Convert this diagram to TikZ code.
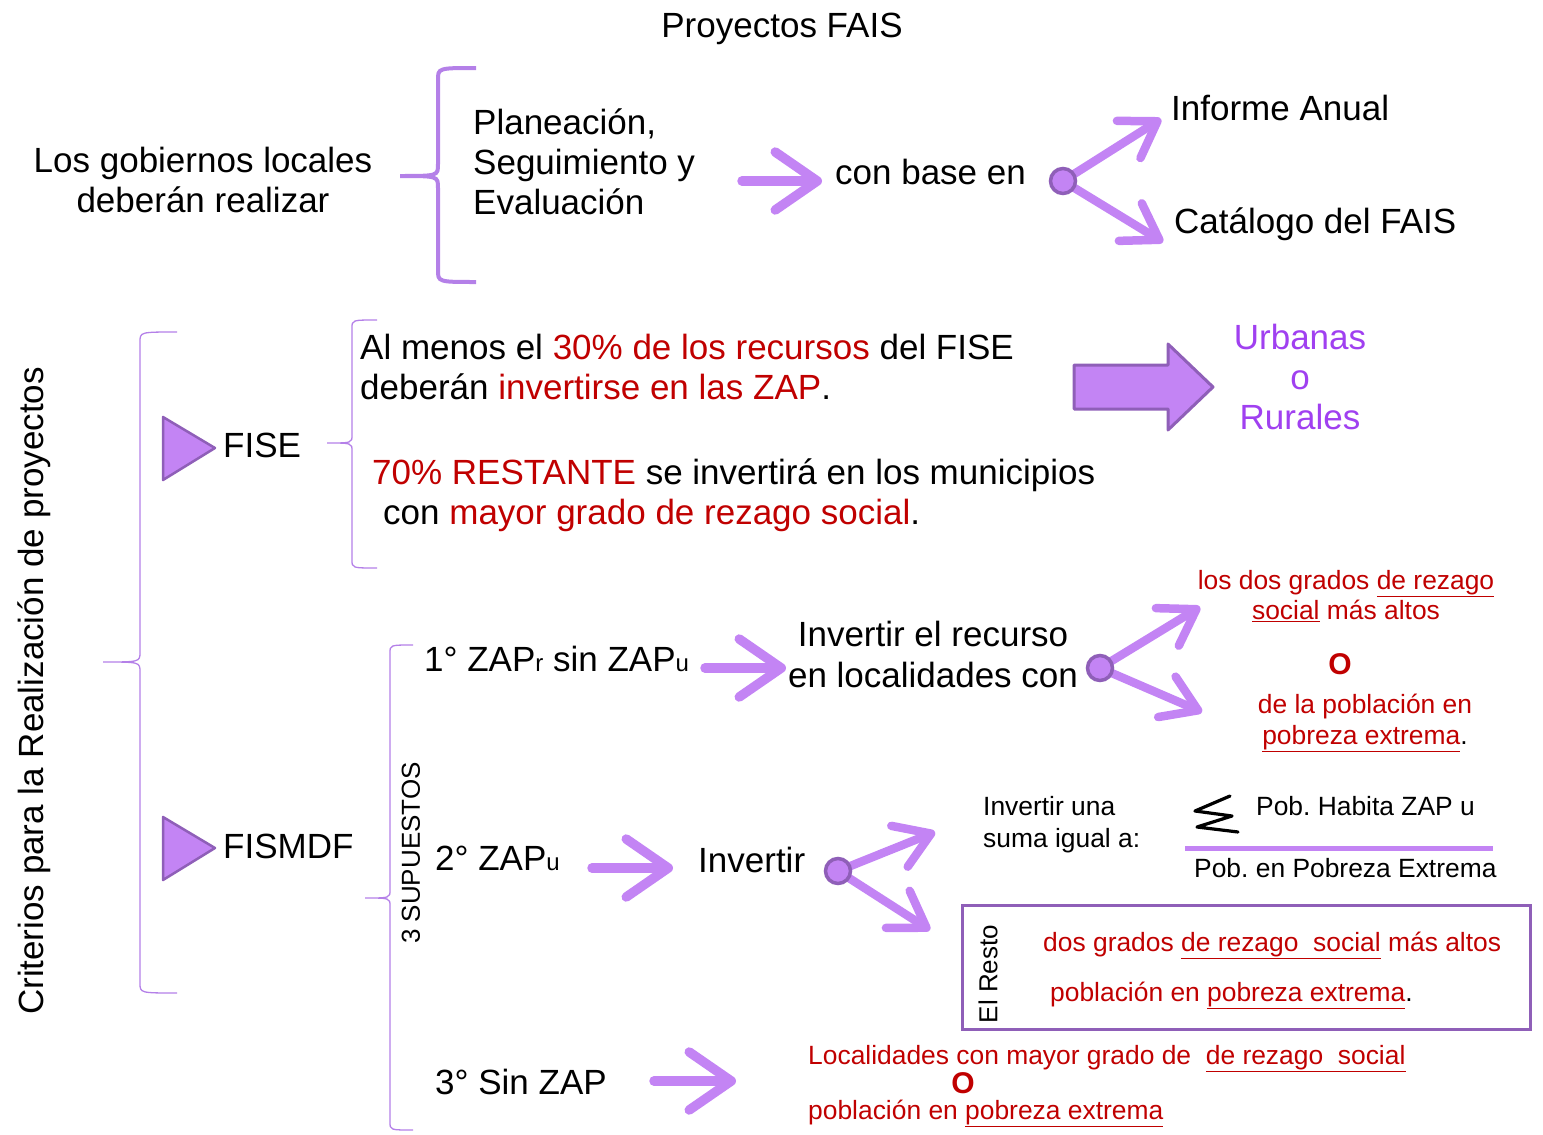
\documentclass[tikz,border=0pt]{standalone}
\usepackage{fontspec}
\setmainfont{Liberation Sans}
\usetikzlibrary{arrows.meta}
\definecolor{arrowc}{RGB}{195,132,244}
\definecolor{darkp}{RGB}{143,95,184}
\definecolor{bracec}{RGB}{180,128,232}
\definecolor{redc}{RGB}{192,0,0}
\definecolor{urbc}{RGB}{160,64,240}
\frenchspacing
\newcommand\fsA{\fontsize{35}{40}\selectfont}
\newcommand\fsB{\fontsize{26.4}{30.5}\selectfont}
\newcommand\fsC{\fontsize{26}{32}\selectfont}
\newcommand\fsO{\fontsize{30}{30}\selectfont\bfseries}
\newcommand\fsS{\fontsize{24}{24}\selectfont}
\newcommand\ul[1]{\underline{#1}}
\newcommand\bracepath[7]{% xv ytop ybot xtip ytip xend r
  (#6,#2) .. controls (#1,#2) .. (#1,#2+#7) -- (#1,#5-#7)
  .. controls (#1,#5) .. (#4,#5) .. controls (#1,#5) .. (#1,#5+#7)
  -- (#1,#3-#7) .. controls (#1,#3) .. (#6,#3)}
\begin{document}
\begin{tikzpicture}[x=1pt,y=-1pt,
  txt/.style={inner sep=0pt, font=\fsA},
  redt/.style={inner sep=0pt, font=\fsB, text=redc},
  smt/.style={inner sep=0pt, font=\fontsize{26.4}{32}\selectfont},
  parrow/.style={draw=arrowc, line width=9.5pt, line cap=round, -{Straight Barb[length=42pt,width=58pt,round]}},
  sarrow/.style={draw=arrowc, line width=8.5pt, line cap=round, -{Straight Barb[length=34pt,width=44pt,round]}},
  dotc/.style={circle, fill=arrowc, draw=darkp, line width=3.5pt, minimum size=25pt, inner sep=0pt},
  bracel/.style={draw=bracec, line width=1.3pt},
  tri/.style={fill=arrowc, draw=darkp, line width=2.5pt, line join=round}]
\useasboundingbox (0,0) rectangle (1543,1135);

% ---------- top section ----------
\node[txt, anchor=base] (title) at (782,37) {Proyectos FAIS};
\node[txt, anchor=base, align=center] (gob) at (203,212) {Los gobiernos locales\\deberán realizar};
\draw[draw=bracec, line width=4pt] \bracepath{438}{68}{282}{400}{176}{476}{12};
\node[txt, anchor=base west, align=left] (plan) at (473,214) {Planeación,\\Seguimiento y\\Evaluación};
\coordinate (a1s) at (742,181);
\coordinate (a1e) at (822,181);
\draw[parrow] (a1s) -- (a1e);
\node[txt, anchor=base west] (base) at (835,184) {con base en};
\coordinate (t1a) at (1161,119);
\coordinate (t1b) at (1163,242);
\draw[sarrow] (1063,181) -- (t1a);
\draw[sarrow] (1063,181) -- (t1b);
\node[dotc] (c1) at (1063,181) {};
\node[txt, anchor=base west] (inf) at (1171,120) {Informe Anual};
\node[txt, anchor=base west] (cat) at (1174,233) {Catálogo del FAIS};

% ---------- left criteria ----------
\node[inner sep=0pt, font=\fontsize{35}{40}\selectfont, rotate=90] (crit) at (34,691) {Criterios para la Realización de proyectos};
\draw[bracel] \bracepath{140}{332}{993}{103}{662}{177}{10};
\draw[tri] (163,417) -- (215,448) -- (163,480) -- cycle;
\draw[tri] (163,817) -- (215,848) -- (163,880) -- cycle;
\node[txt, anchor=base west] (fise) at (223,457) {FISE};
\node[txt, anchor=base west] (fismdf) at (223,858) {FISMDF};

% ---------- FISE ----------
\draw[bracel] \bracepath{352}{320}{568}{327}{443}{377}{8};
\node[txt, anchor=base west, align=left] (almenos) at (360,399)
  {Al menos el \textcolor{redc}{30\% de los recursos} del FISE\\deberán \textcolor{redc}{invertirse en las ZAP}.};
\draw[fill=arrowc, draw=darkp, line width=3pt, line join=round]
  (1074,365) -- (1168,365) -- (1168,344) -- (1213,387) -- (1168,430) -- (1168,409) -- (1074,409) -- cycle;
\node[txt, anchor=base, align=center, text=urbc] (urb) at (1300,429) {Urbanas\\o\\Rurales};
\node[txt, anchor=base west] (rest1) at (372,484) {\textcolor{redc}{70\% RESTANTE} se invertirá en los municipios};
\node[txt, anchor=base west] (rest2) at (383,524) {con \textcolor{redc}{mayor grado de rezago social}.};

% ---------- FISMDF ----------
\draw[bracel] \bracepath{390}{645}{1130}{365}{898}{413}{8};
\node[inner sep=0pt, font=\fsC, rotate=90] (sup) at (411,853) {3 SUPUESTOS};

% 1st
\node[txt, anchor=base west] (s1) at (424,671) {1° ZAP{\fsS r} sin ZAP{\fsS u}};
\coordinate (a2s) at (705,668);
\coordinate (a2e) at (786,668);
\draw[parrow] (a2s) -- (a2e);
\node[txt, anchor=base, align=center, font=\fontsize{35}{41}\selectfont] (inv1) at (933,687) {Invertir el recurso\\en localidades con};
\coordinate (t2a) at (1200,607);
\coordinate (t2b) at (1202,712);
\draw[sarrow] (1100,668) -- (t2a);
\draw[sarrow] (1100,668) -- (t2b);
\node[dotc] (c2) at (1100,668) {};
\node[redt, anchor=base, align=center] (dos1) at (1346,619.5) {los dos grados \ul{de rezago}\\\ul{social} más altos};
\node[inner sep=0pt, font=\fsO, text=redc, anchor=base] (o1) at (1340,674) {O};
\node[redt, anchor=base, align=center, font=\fontsize{26.4}{31}\selectfont] (pob1) at (1365,744) {de la población en\\\ul{pobreza extrema}\textcolor{black}{.}};

% 2nd
\node[txt, anchor=base west] (s2) at (435,870) {2° ZAP{\fsS u}};
\coordinate (a3s) at (592,868);
\coordinate (a3e) at (673,868);
\draw[parrow] (a3s) -- (a3e);
\node[txt, anchor=base west] (inv2) at (698,872) {Invertir};
\coordinate (t3a) at (935,832);
\coordinate (t3b) at (930,930);
\draw[sarrow] (838,871) -- (t3a);
\draw[sarrow] (838,871) -- (t3b);
\node[dotc] (c3) at (838,871) {};
\node[smt, anchor=base west, align=left] (suma) at (983,847) {Invertir una\\suma igual a:};
\draw[black, line width=3.2pt, line join=round, line cap=round]
  (1230,796) -- (1195,811) -- (1232,816) -- (1197,827) -- (1238,832);
\node[smt, anchor=base west] (num) at (1256,815) {Pob. Habita ZAP u};
\draw[draw=arrowc, line width=5pt] (1185,848) -- (1493,848);
\node[smt, anchor=base west] (den) at (1194,877) {Pob. en Pobreza Extrema};
\node[draw=darkp, line width=3pt, minimum width=568pt, minimum height=124pt, inner sep=0pt] (box) at (1246.5,967.5) {};
\node[inner sep=0pt, font=\fsC, rotate=90] (resto) at (988,974) {El Resto};
\node[redt, anchor=base west] (box1) at (1043,951) {dos grados \ul{de rezago\ \ social} más altos};
\node[redt, anchor=base west] (box2) at (1050,1001) {población en \ul{pobreza extrema}\textcolor{black}{.}};

% 3rd
\node[txt, anchor=base west] (s3) at (435,1094) {3° Sin ZAP};
\coordinate (a4s) at (654,1081);
\coordinate (a4e) at (736,1081);
\draw[parrow] (a4s) -- (a4e);
\node[redt, anchor=base west] (loc1) at (808,1064) {Localidades con mayor grado de\ \ \ul{de rezago\ \ social}};
\node[inner sep=0pt, font=\fsO, text=redc, anchor=base] (o2) at (963,1093) {O};
\node[redt, anchor=base west] (loc2) at (808,1119) {población en \ul{pobreza extrema}};
\end{tikzpicture}
\end{document}
